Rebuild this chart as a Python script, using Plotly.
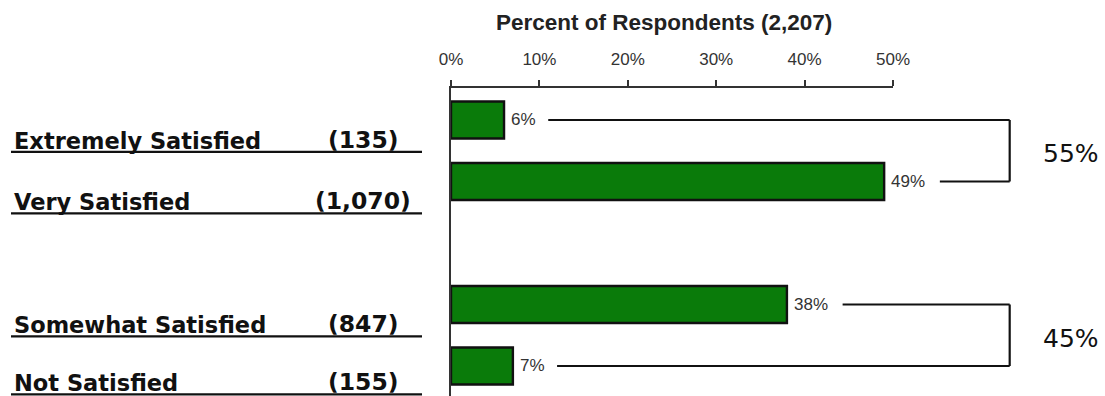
import plotly.graph_objects as go

# Survey results: satisfaction level, respondent counts and share of respondents
categories = ["Extremely Satisfied", "Very Satisfied", "Somewhat Satisfied", "Not Satisfied"]
counts = ["(135)", "(1,070)", "(847)", "(155)"]
percents = [6, 49, 38, 7]
groups = [0, 0, 1, 1]
x_ticks = [0, 10, 20, 30, 40, 50]
x_tick_labels = ["0%", "10%", "20%", "30%", "40%", "50%"]
axis_title = "Percent of Respondents (2,207)"

# Rows are stacked top-down with one empty slot between the two groups
positions = [i + g for i, g in enumerate(groups)]
value_labels = [f"{p}%" for p in percents]

X_RANGE = [0, 50]
Y_RANGE = [4.488, -0.52]
GREEN = "#0a7b0a"
INK = "#111111"


def to_paper_x(v):
    return (v - X_RANGE[0]) / (X_RANGE[1] - X_RANGE[0])


def to_paper_y(v):
    return (Y_RANGE[0] - v) / (Y_RANGE[0] - Y_RANGE[1])


fig = go.Figure()
fig.add_trace(go.Bar(
    x=percents,
    y=positions,
    orientation="h",
    width=0.6,
    marker=dict(color=GREEN, line=dict(color=INK, width=2.4)),
    hoverinfo="skip",
    showlegend=False,
))

annotations = []
shapes = []

# value labels next to bars
for p, y, lab in zip(percents, positions, value_labels):
    annotations.append(dict(
        x=p, y=y, xref="x", yref="y", text=lab, showarrow=False,
        xanchor="left", yanchor="middle", xshift=5,
        font=dict(family="Liberation Sans, Arial", size=17, color="#333333"),
    ))

# row labels sitting on an underline at the left
for name, cnt, y in zip(categories, counts, positions):
    uy = max(to_paper_y(y + 0.52), 0.005)
    annotations.append(dict(
        x=-439 / 442, y=uy, xref="paper", yref="paper", text=f"<b>{name}</b>",
        showarrow=False, xanchor="left", yanchor="bottom", yshift=-4,
        font=dict(family="DejaVu Sans", size=22.5, color=INK),
    ))
    annotations.append(dict(
        x=-88 / 442, y=uy, xref="paper", yref="paper", text=f"<b>{cnt}</b>",
        showarrow=False, xanchor="center", yanchor="bottom", yshift=-4,
        font=dict(family="DejaVu Sans", size=23.5, color=INK),
    ))
    shapes.append(dict(
        type="line", xref="paper", yref="paper",
        x0=-440 / 442, x1=-29 / 442, y0=uy, y1=uy,
        line=dict(color=INK, width=2.2),
    ))

# brackets joining each group to its combined share
bracket_x = 63.2
for g in sorted(set(groups)):
    idx = [i for i, gg in enumerate(groups) if gg == g]
    ys = [positions[i] for i in idx]
    for i in idx:
        start = percents[i] + 2.4 + 1.3 * len(value_labels[i])
        shapes.append(dict(
            type="line", xref="paper", yref="y",
            x0=to_paper_x(start), x1=to_paper_x(bracket_x),
            y0=positions[i], y1=positions[i],
            line=dict(color=INK, width=2.2),
        ))
    shapes.append(dict(
        type="line", xref="paper", yref="y",
        x0=to_paper_x(bracket_x), x1=to_paper_x(bracket_x),
        y0=min(ys), y1=max(ys),
        line=dict(color=INK, width=2.2),
    ))
    total = sum(percents[i] for i in idx)
    annotations.append(dict(
        x=1.403, y=sum(ys) / len(ys), xref="paper", yref="y", text=f"{total}%",
        showarrow=False, xanchor="center", yanchor="middle", yshift=-3,
        font=dict(family="DejaVu Sans", size=25, color=INK),
    ))

# axis title above the tick labels
annotations.append(dict(
    x=0.481, y=1, xref="paper", yref="paper", yanchor="middle", yshift=66,
    text=f"<b>{axis_title}</b>", showarrow=False,
    font=dict(family="Liberation Sans, Arial", size=22.5, color="#222222"),
))

fig.update_layout(
    width=1105, height=396,
    margin=dict(l=451, r=212, t=88, b=0, pad=0),
    paper_bgcolor="white", plot_bgcolor="white",
    annotations=annotations, shapes=shapes,
    bargap=0.4,
)
fig.update_xaxes(
    range=X_RANGE, side="top", tickvals=x_ticks, ticktext=x_tick_labels,
    showgrid=False, zeroline=False, showline=True, linecolor="#333333", linewidth=1.5,
    ticks="outside", ticklen=6, tickwidth=1.5, tickcolor="#333333",
    ticklabelstandoff=8,
    tickfont=dict(family="Liberation Sans, Arial", size=17, color="#333333"),
    fixedrange=True,
)
fig.update_yaxes(
    range=Y_RANGE, showticklabels=False, showgrid=False, zeroline=False,
    showline=True, linecolor="#333333", linewidth=1.5, ticks="", fixedrange=True,
)

fig.write_html("out.html", config={"displayModeBar": False})
